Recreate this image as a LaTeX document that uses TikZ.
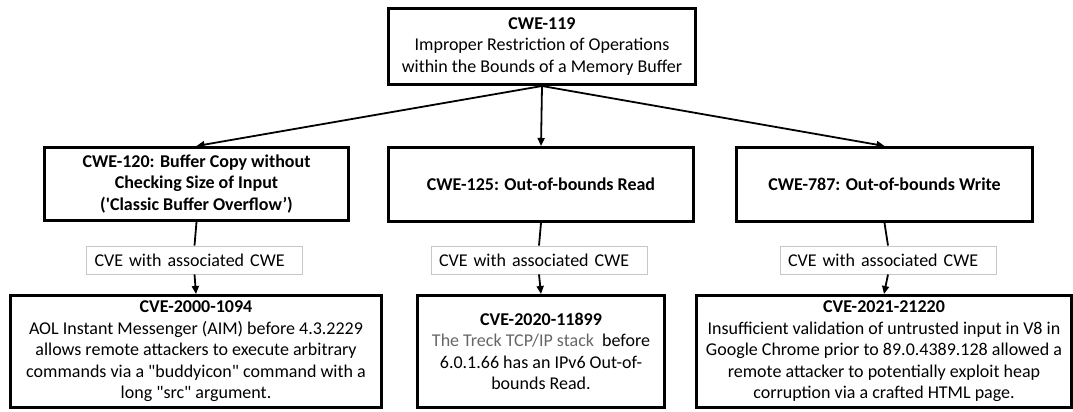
\documentclass[tikz,border=0pt]{standalone}
\usepackage{fontspec}
\setmainfont{Carlito}
\usetikzlibrary{positioning,arrows.meta}
\definecolor{tagframe}{gray}{0.78}
\definecolor{treckgray}{gray}{0.4}

\begin{document}
\begin{tikzpicture}[x=1pt,y=-1pt,
  box/.style={draw,line width=3pt,align=center,inner sep=2pt,font=\fontsize{18}{21.5}\selectfont},
  tagbox/.style={draw=tagframe,line width=0.9pt,minimum height=28pt,inner xsep=8pt,
    text width=200pt,align=left,font=\fontsize{18}{20}\selectfont},
  link/.style={line width=1.8pt,-{Triangle[length=8pt,width=7pt]}},
  tie/.style={line width=1.8pt}]
  \useasboundingbox (0,0) rectangle (1073,412);
  % top of the tree
  \node[box,minimum width=307pt,minimum height=76pt] (cwe119) at (542,46.5)
    {\textbf{CWE-119}\\Improper Restriction of Operations\\within the Bounds of a Memory Buffer};
  % weaknesses
  \node[box,minimum width=304pt,minimum height=73pt] (cwe120) at (196.5,184)
    {\textbf{CWE-120: Buffer Copy without}\\\textbf{Checking Size of Input}\\\textbf{(\textquotesingle Classic Buffer Overflow’)}};
  \node[box,minimum width=305pt,minimum height=74pt] (cwe125) at (541,184.5)
    {\textbf{CWE-125: Out-of-bounds Read}};
  \node[box,minimum width=296pt,minimum height=74pt] (cwe787) at (884.5,184.5)
    {\textbf{CWE-787: Out-of-bounds Write}};
  % tags
  \node[tagbox] (tag120) at (194.5,260) {CVE with associated CWE};
  \node[tagbox] (tag125) at (539,260) {CVE with associated CWE};
  \node[tagbox] (tag787) at (888,260) {CVE with associated CWE};
  % vulnerabilities
  \node[box,minimum width=371pt,minimum height=112pt] (cve1094) at (196,351.5)
    {\textbf{CVE-2000-1094}\\AOL Instant Messenger (AIM) before 4.3.2229\\allows remote attackers to execute arbitrary\\commands via a \textquotedbl buddyicon\textquotedbl{} command with a\\long \textquotedbl src\textquotedbl{} argument.};
  \node[box,minimum width=247pt,minimum height=112pt] (cve11899) at (541,351.5)
    {\textbf{CVE-2020-11899}\\\textcolor{treckgray}{The Treck TCP/IP stack}\ \ before\\6.0.1.66 has an IPv6 Out-of-\\bounds Read.};
  \node[box,minimum width=375pt,minimum height=112pt] (cve21220) at (884,351.5)
    {\textbf{CVE-2021-21220}\\Insufficient validation of untrusted input in V8 in\\Google Chrome prior to 89.0.4389.128 allowed a\\remote attacker to potentially exploit heap\\corruption via a crafted HTML page.};
  % connectors
  \foreach \w/\v in {120/1094, 125/11899, 787/21220} {
    \draw[link] (cwe119.south) -- (cwe\w.north);
    \draw[tie] (cwe\w.south) -- (tag\w.north);
    \draw[link] (tag\w.south) -- (cve\v.north);
  }
\end{tikzpicture}
\end{document}
